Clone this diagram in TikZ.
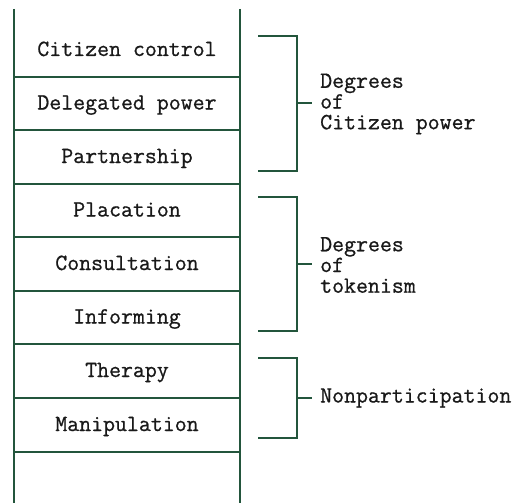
\documentclass[tikz,border=0pt]{standalone}
\usepackage{fontspec}
\newfontfamily\monofont[FakeBold=0.8]{Latin Modern Mono}
\definecolor{ladder}{RGB}{35,85,60}
\definecolor{txt}{RGB}{25,25,25}
\tikzset{
  rail/.style={draw=ladder, line width=2.6pt},
  rung/.style={draw=ladder, line width=2pt},
  brk/.style={draw=ladder, line width=2pt},
  cell/.style={anchor=base, inner sep=0pt, text=txt, font=\monofont\fontsize{23.2}{20.7}\selectfont},
  lab/.style={anchor=west, inner sep=0pt, align=left, text=txt, font=\monofont\fontsize{23.2}{20.7}\selectfont},
}
\begin{document}
\begin{tikzpicture}[x=1pt,y=-1pt]
\useasboundingbox (0,0) rectangle (524,503);
% rails
\coordinate (lt) at (14,9);
\coordinate (lb) at (14,503);
\coordinate (rt) at (240,9);
\coordinate (rb) at (240,503);
\draw[rail] (lt) -- (lb);
\draw[rail] (rt) -- (rb);
% rungs
\foreach \y in {77,130,184,237,291,344,398,452}{
  \draw[rung] (14,\y) -- (240,\y);
}
% cells
\node[cell] (c1) at (127,56) {Citizen control};
\node[cell] (c2) at (127,109.5) {Delegated power};
\node[cell] (c3) at (127,163) {Partnership};
\node[cell] (c4) at (127,216.5) {Placation};
\node[cell] (c5) at (127,270) {Consultation};
\node[cell] (c6) at (127,323.5) {Informing};
\node[cell] (c7) at (127,377) {Therapy};
\node[cell] (c8) at (127,431) {Manipulation};
% brackets
\coordinate (b1t) at (258,36);
\coordinate (b1b) at (258,171);
\coordinate (b1m) at (297,103);
\coordinate (b1e) at (312,103);
\node[lab] (g1) at (320,104) {Degrees\\of\\Citizen power};
\draw[brk] (b1t) -| (297,171) -- (b1b);
\draw[brk] (b1m) -- (b1e);

\coordinate (b2t) at (258,197);
\coordinate (b2b) at (258,331);
\coordinate (b2m) at (297,264);
\coordinate (b2e) at (312,264);
\node[lab] (g2) at (320,265) {Degrees\\of\\tokenism};
\draw[brk] (b2t) -| (297,331) -- (b2b);
\draw[brk] (b2m) -- (b2e);

\coordinate (b3t) at (258,358);
\coordinate (b3b) at (258,438);
\coordinate (b3m) at (297,398);
\coordinate (b3e) at (312,398);
\node[lab] (g3) at (320,398) {Nonparticipation};
\draw[brk] (b3t) -| (297,438) -- (b3b);
\draw[brk] (b3m) -- (b3e);
\end{tikzpicture}
\end{document}
